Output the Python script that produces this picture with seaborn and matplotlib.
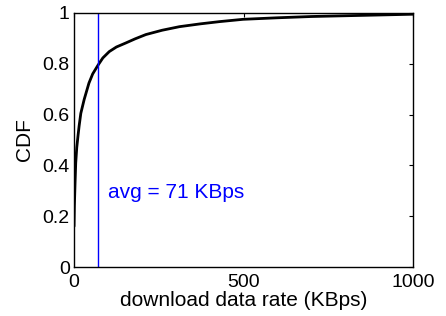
import matplotlib
matplotlib.use("Agg")
import matplotlib.pyplot as plt
import seaborn as sns
import pandas as pd

# data
rate_kbps = [0, 1, 3, 5, 8, 12, 15, 20, 30, 44, 55, 71, 85, 104, 125, 153, 180, 212, 260, 311, 372, 430, 499, 600, 700, 800, 900, 1000]
cdf = [0.16, 0.24, 0.33, 0.41, 0.47, 0.52, 0.555, 0.605, 0.66, 0.724, 0.76, 0.795, 0.823, 0.848, 0.866, 0.882, 0.898, 0.915, 0.932, 0.946, 0.957, 0.966, 0.975, 0.981, 0.986, 0.989, 0.992, 0.995]
avg_rate = 71
x_ticks = [0, 500, 1000]
y_ticks = [0, 0.2, 0.4, 0.6, 0.8, 1.0]
y_tick_labels = ["0", "0.2", "0.4", "0.6", "0.8", "1"]

sns.set_style("white")
plt.rcParams["font.family"] = ["Liberation Sans", "DejaVu Sans"]

fig = plt.figure(figsize=(4.46, 3.16), dpi=100)
ax = fig.add_axes([0.166, 0.155, 0.760, 0.804])

df = pd.DataFrame({"rate": rate_kbps, "cdf": cdf})
sns.lineplot(data=df, x="rate", y="cdf", ax=ax, color="black", linewidth=2.0, sort=False)
ax.axvline(avg_rate, color="blue", linewidth=1.0)
ax.text(100, 0.295, f"avg = {avg_rate} KBps", color="blue", fontsize=15, va="center", ha="left")

ax.set_xlim(0, 1000)
ax.set_ylim(0, 1)
ax.set_xticks(x_ticks)
ax.set_xticklabels([str(t) for t in x_ticks])
ax.set_yticks(y_ticks)
ax.set_yticklabels(y_tick_labels)
ax.tick_params(direction="in", length=3, width=0.8, top=True, right=True, labelsize=14, colors="black")
ax.tick_params(axis="x", pad=5)
ax.tick_params(axis="y", pad=3)
for s in ax.spines.values():
    s.set_visible(True)
    s.set_color("black")
    s.set_linewidth(1.0)
ax.set_xlabel("download data rate (KBps)", fontsize=15, labelpad=0, color="black")
ax.set_ylabel("CDF", fontsize=15, labelpad=6, color="black")

fig.savefig("out.png", dpi=100)
